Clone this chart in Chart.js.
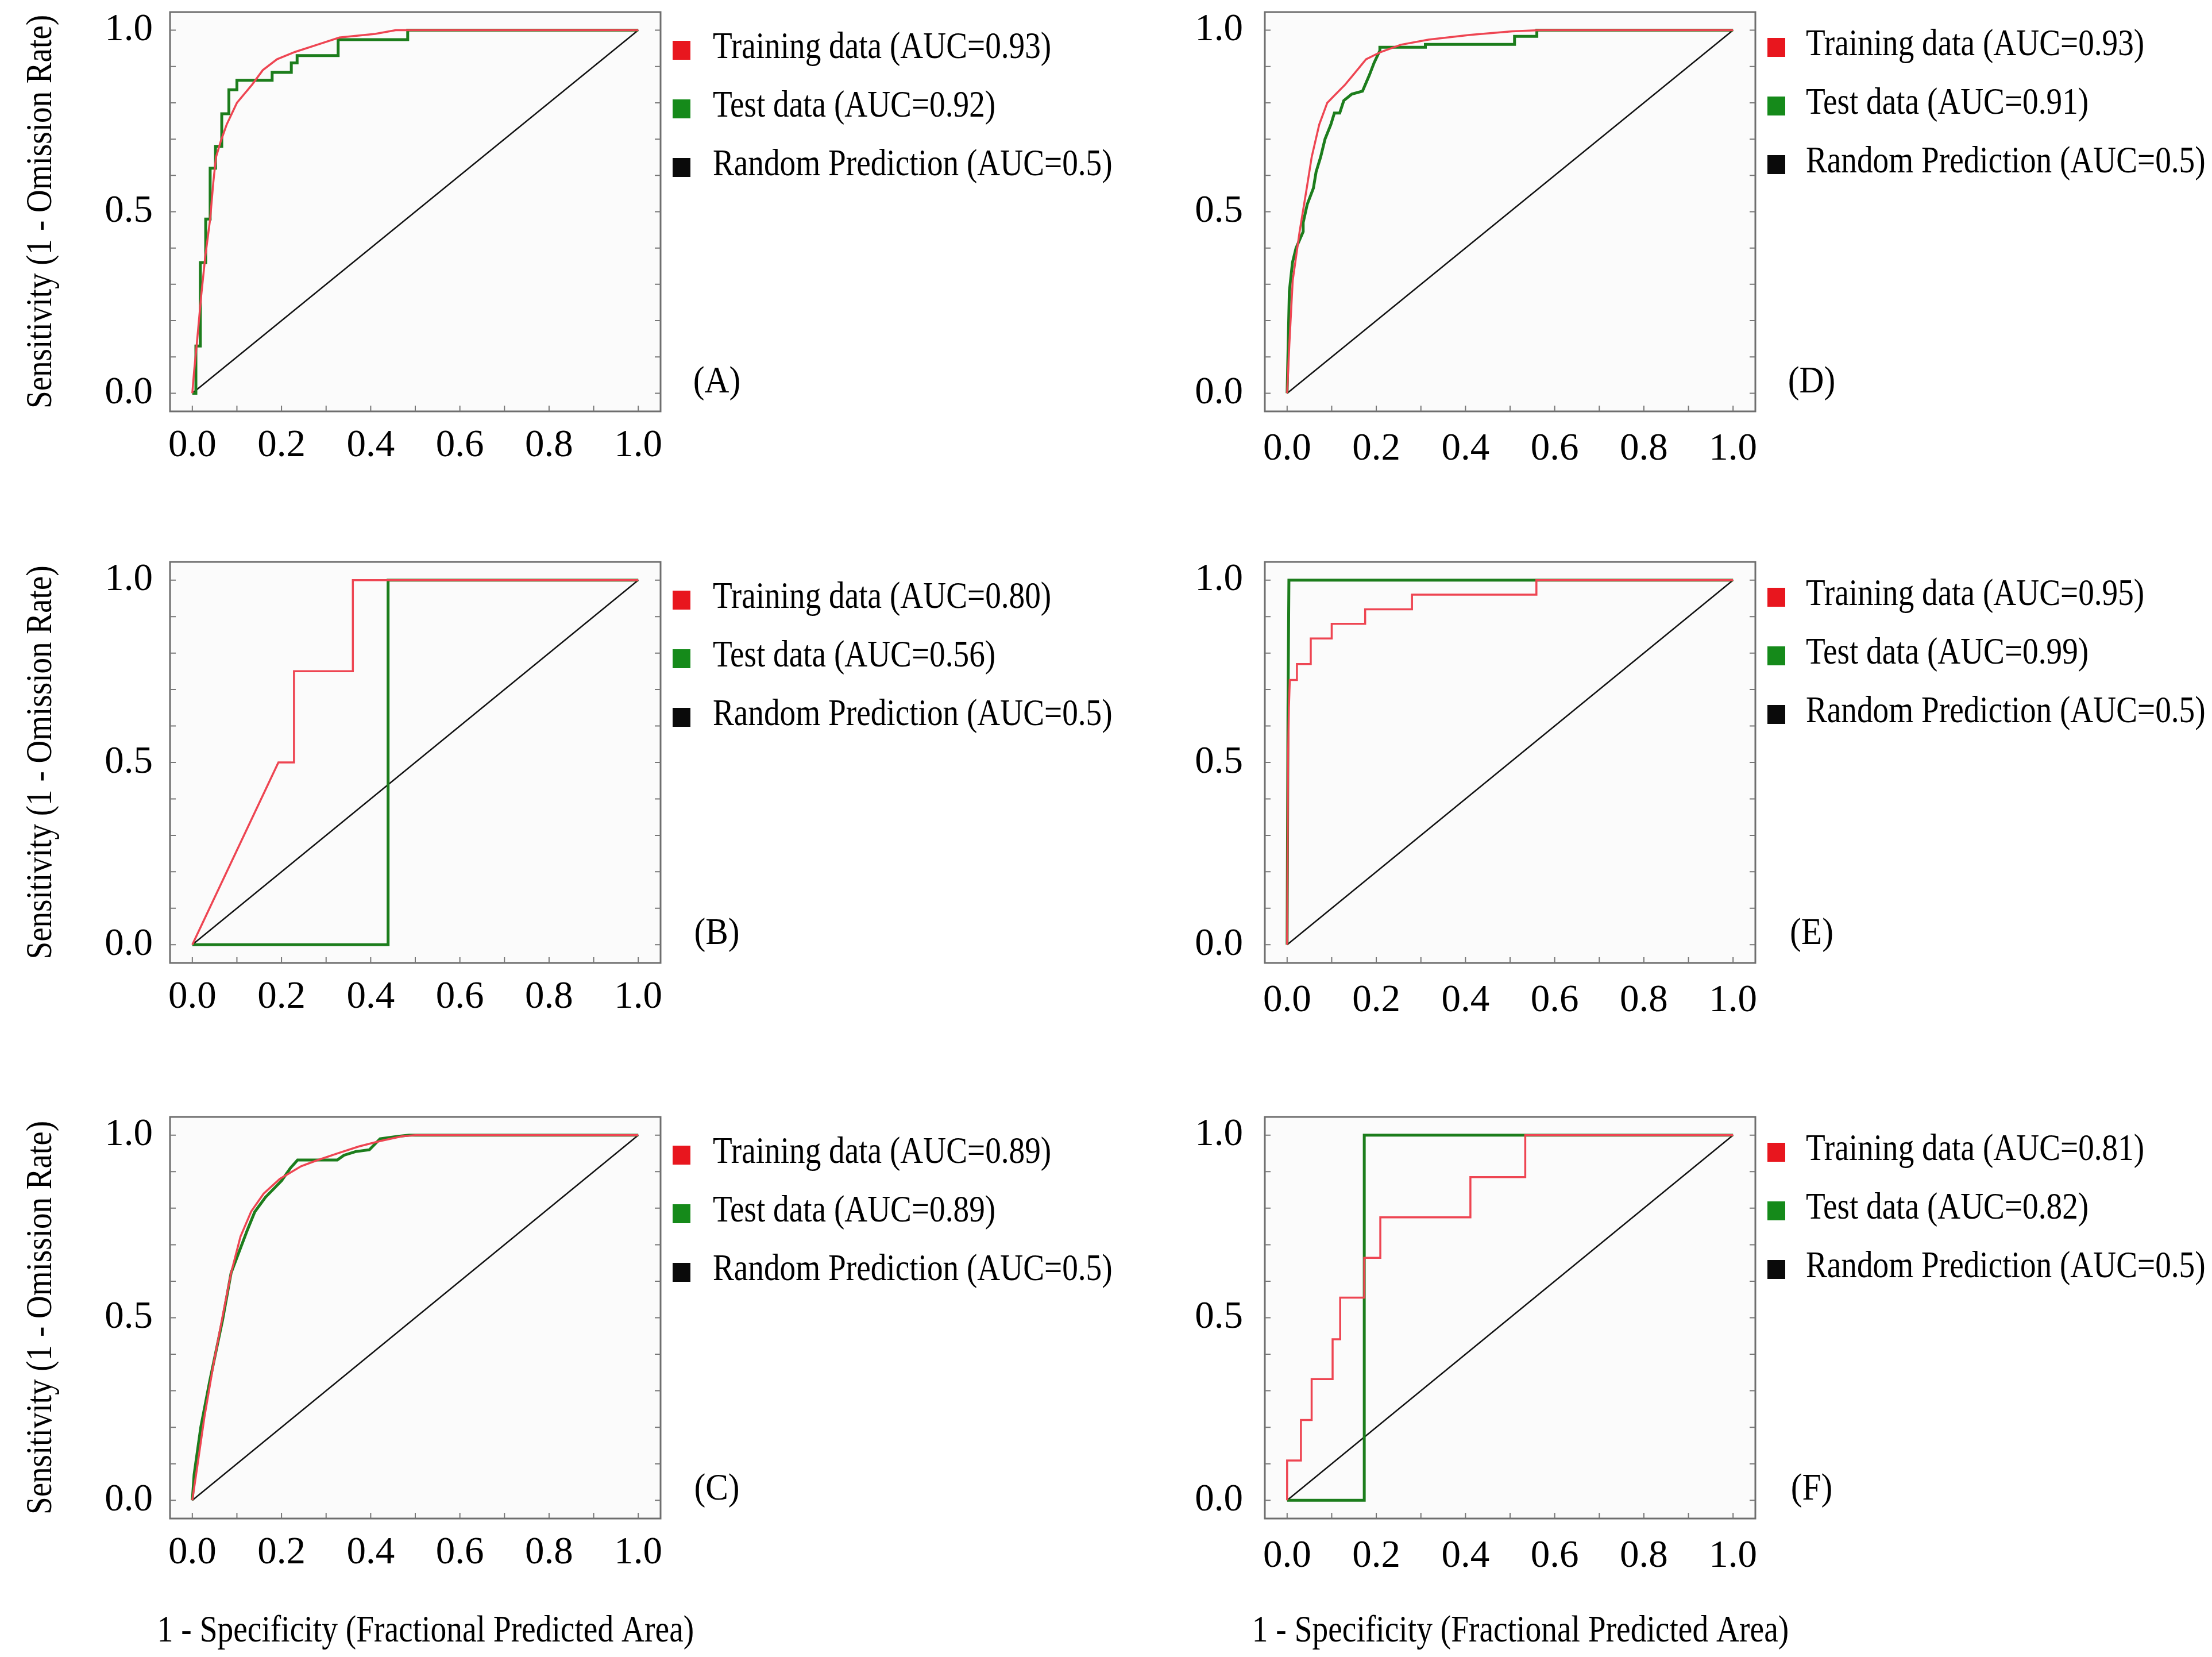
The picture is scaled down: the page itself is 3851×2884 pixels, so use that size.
<!DOCTYPE html>
<html>
<head>
<meta charset="utf-8">
<script src="https://cdn.jsdelivr.net/npm/chart.js@4.4.1/dist/chart.umd.min.js"></script>
<style>
html, body { margin: 0; padding: 0; background: #fff; }
#page { position: relative; width: 3851px; height: 2884px; overflow: hidden; background: #fff; }
#page canvas { position: absolute; }
</style>
</head>
<body>
<div id="page"></div>
<script>
// ROC curves, six panels (A-F)

// tick labels
var xTickValues = [0, 0.2, 0.4, 0.6, 0.8, 1.0];
var yTickValues = [0, 0.5, 1.0];
var minorTicks = [0, 0.1, 0.2, 0.3, 0.4, 0.5, 0.6, 0.7, 0.8, 0.9, 1.0];

// panel names and AUC values for the legends
var panelNames = ["A", "B", "C", "D", "E", "F"];
var trainingAuc = ["0.93", "0.80", "0.89", "0.93", "0.95", "0.81"];
var testAuc = ["0.92", "0.56", "0.89", "0.91", "0.99", "0.82"];
var randomAuc = "0.5";

// curves as [1 - specificity, sensitivity]
var trainA = [[0,0],[0.004,0.06],[0.01,0.135],[0.02,0.27],[0.029,0.376],[0.04,0.48],[0.047,0.58],[0.053,0.65],[0.064,0.695],[0.077,0.74],[0.1,0.8],[0.134,0.85],[0.158,0.89],[0.19,0.92],[0.23,0.94],[0.28,0.96],[0.33,0.98],[0.41,0.99],[0.456,1.0],[1,1]];
var testA = [[0,0],[0.008,0],[0.008,0.13],[0.018,0.13],[0.018,0.36],[0.03,0.36],[0.03,0.48],[0.04,0.48],[0.04,0.62],[0.052,0.62],[0.052,0.68],[0.066,0.68],[0.066,0.77],[0.082,0.77],[0.082,0.836],[0.1,0.836],[0.1,0.862],[0.179,0.862],[0.179,0.884],[0.222,0.884],[0.222,0.91],[0.235,0.91],[0.235,0.93],[0.327,0.93],[0.327,0.974],[0.483,0.974],[0.483,1.0],[1,1]];

var trainB = [[0,0],[0.193,0.5],[0.228,0.5],[0.228,0.75],[0.36,0.75],[0.36,1],[1,1]];
var testB = [[0,0],[0.439,0],[0.439,1],[1,1]];

var trainC = [[0,0],[0.012,0.1],[0.027,0.227],[0.048,0.376],[0.071,0.524],[0.087,0.623],[0.108,0.722],[0.132,0.791],[0.16,0.84],[0.196,0.88],[0.244,0.915],[0.277,0.93],[0.325,0.95],[0.373,0.969],[0.421,0.984],[0.47,0.997],[0.5,1],[1,1]];
var testC = [[0,0],[0.004,0.07],[0.019,0.2],[0.039,0.326],[0.068,0.495],[0.087,0.623],[0.124,0.742],[0.14,0.79],[0.164,0.83],[0.2,0.875],[0.22,0.91],[0.236,0.932],[0.325,0.932],[0.34,0.945],[0.366,0.955],[0.397,0.96],[0.421,0.99],[0.462,0.997],[0.486,1],[1,1]];

var trainD = [[0,0],[0.005,0.135],[0.0125,0.31],[0.028,0.445],[0.044,0.565],[0.055,0.65],[0.072,0.74],[0.09,0.8],[0.106,0.82],[0.13,0.85],[0.153,0.884],[0.177,0.92],[0.21,0.94],[0.255,0.96],[0.317,0.974],[0.41,0.987],[0.505,0.997],[0.567,1],[1,1]];
var testD = [[0,0],[0.005,0.28],[0.012,0.36],[0.02,0.4],[0.036,0.445],[0.036,0.47],[0.045,0.52],[0.059,0.565],[0.065,0.61],[0.075,0.65],[0.085,0.7],[0.098,0.74],[0.106,0.772],[0.118,0.772],[0.127,0.806],[0.145,0.824],[0.169,0.832],[0.184,0.875],[0.195,0.91],[0.208,0.944],[0.208,0.953],[0.31,0.953],[0.31,0.961],[0.51,0.961],[0.51,0.983],[0.56,0.983],[0.56,1],[1,1]];

var trainE = [[0,0],[0.002,0.5],[0.004,0.65],[0.006,0.726],[0.022,0.726],[0.022,0.77],[0.053,0.77],[0.053,0.84],[0.1,0.84],[0.1,0.88],[0.175,0.88],[0.175,0.92],[0.28,0.92],[0.28,0.96],[0.559,0.96],[0.559,1],[1,1]];
var testE = [[0,0],[0.002,0.65],[0.004,1],[1,1]];

var trainF = [[0,0],[0,0.109],[0.031,0.109],[0.031,0.22],[0.055,0.22],[0.055,0.332],[0.102,0.332],[0.102,0.441],[0.119,0.441],[0.119,0.555],[0.173,0.555],[0.173,0.664],[0.209,0.664],[0.209,0.775],[0.411,0.775],[0.411,0.885],[0.534,0.885],[0.534,1],[1,1]];
var testF = [[0,0],[0.173,0],[0.173,1],[1,1]];

var randomLine = [[0,0],[1,1]];

var trainCurves = [trainA, trainB, trainC, trainD, trainE, trainF];
var testCurves = [testA, testB, testC, testD, testE, testF];

// text
var yTitle = "Sensitivity (1 - Omission Rate)";
var xTitle = "1 - Specificity (Fractional Predicted Area)";

// colours
var lineRed = "#ee4552";
var lineGreen = "#1c7d1c";
var lineBlack = "#111111";
var legendColors = ["#e8161e", "#158a1a", "#0a0a0a"];

// page layout (pixels), columns and rows of the grid
var AXIS_W = 120;
var AXIS_H = 120;
var colBox = [
  { left: 0, width: 1950, frameL: 296, frameR: 1150, yPad: 30, xPad: 20, legendX: 91, legendY: 80 },
  { left: 1950, width: 1901, frameL: 2202, frameR: 3056, yPad: 38, xPad: 26, legendX: 88, legendY: 75 }
];
var rowBox = [
  { top: 0, height: 940, frameT: 21, frameB: 716 },
  { top: 940, height: 960, frameT: 978, frameB: 1676 },
  { top: 1900, height: 984, frameT: 1944, frameB: 2643 }
];
var SERIF = '"Liberation Serif", "Times New Roman", serif';

function toPoints(list) {
  return list.map(function (p) { return { x: p[0], y: p[1] }; });
}

// text a bit narrower than the font, like the original figure
function condensedText(ctx, text, x, y, squeeze, angle, align) {
  ctx.save();
  ctx.translate(x, y);
  if (angle) ctx.rotate(angle);
  ctx.scale(squeeze, 1);
  ctx.textAlign = align || "left";
  ctx.fillText(text, 0, 0);
  ctx.restore();
}

var rocDecor = {
  id: "rocDecor",
  beforeDatasetsDraw: function (chart) {
    var a = chart.chartArea, ctx = chart.ctx;
    ctx.save();
    ctx.fillStyle = "#fbfbfb";
    ctx.fillRect(a.left, a.top, a.right - a.left, a.bottom - a.top);
    ctx.restore();
  },
  afterDatasetsDraw: function (chart, args, opts) {
    var a = chart.chartArea, ctx = chart.ctx;
    var xs = chart.scales.x, ys = chart.scales.y;
    ctx.save();

    // frame
    ctx.strokeStyle = "#6e6e6e";
    ctx.lineWidth = 3;
    ctx.strokeRect(a.left, a.top, a.right - a.left, a.bottom - a.top);

    // small inward ticks
    ctx.strokeStyle = "#777";
    ctx.lineWidth = 2;
    ctx.beginPath();
    minorTicks.forEach(function (v) {
      var px = xs.getPixelForValue(v);
      ctx.moveTo(px, a.bottom);
      ctx.lineTo(px, a.bottom - 10);
      var py = ys.getPixelForValue(v);
      ctx.moveTo(a.left, py);
      ctx.lineTo(a.left + 10, py);
      ctx.moveTo(a.right, py);
      ctx.lineTo(a.right - 10, py);
    });
    ctx.stroke();

    // legend
    ctx.textBaseline = "alphabetic";
    ctx.font = "65px " + SERIF;
    chart.data.datasets.forEach(function (ds, k) {
      var base = a.top + opts.legendY + 102 * k;
      ctx.fillStyle = legendColors[k];
      ctx.fillRect(a.right + 21, base - 30, 31, 33);
      ctx.fillStyle = "#000";
      condensedText(ctx, ds.label, a.right + opts.legendX, base, 0.85, 0, "left");
    });

    // panel letter
    ctx.textBaseline = "middle";
    ctx.font = "66px " + SERIF;
    condensedText(ctx, "(" + opts.letter + ")", a.right + 98, a.bottom - 50, 0.9, 0, "center");

    // axis titles
    if (opts.showY) {
      ctx.font = "64px " + SERIF;
      condensedText(ctx, yTitle, 72, (a.top + a.bottom) / 2, 0.86, -Math.PI / 2, "center");
    }
    if (opts.showX) {
      ctx.font = "66px " + SERIF;
      condensedText(ctx, xTitle, (a.left + a.right) / 2 + 18, a.bottom + 197, 0.84, 0, "center");
    }
    ctx.restore();
  }
};

function makePanel(i) {
  var colIdx = i < 3 ? 0 : 1;
  var rowIdx = i % 3;
  var col = colBox[colIdx], row = rowBox[rowIdx];

  var canvas = document.createElement("canvas");
  canvas.width = col.width;
  canvas.height = row.height;
  canvas.style.left = col.left + "px";
  canvas.style.top = row.top + "px";
  canvas.style.width = col.width + "px";
  canvas.style.height = row.height + "px";
  document.getElementById("page").appendChild(canvas);

  var pad = {
    left: col.frameL - col.left - AXIS_W,
    right: col.left + col.width - col.frameR,
    top: row.frameT - row.top,
    bottom: row.top + row.height - row.frameB - AXIS_H
  };
  var tickFont = { family: SERIF, size: 67 };

  return new Chart(canvas.getContext("2d"), {
    type: "scatter",
    data: {
      datasets: [{
        label: "Training data (AUC=" + trainingAuc[i] + ")",
        data: toPoints(trainCurves[i]),
        showLine: true,
        borderColor: lineRed,
        borderWidth: 3.5,
        pointRadius: 0,
        tension: 0
      }, {
        label: "Test data (AUC=" + testAuc[i] + ")",
        data: toPoints(testCurves[i]),
        showLine: true,
        borderColor: lineGreen,
        borderWidth: 5,
        pointRadius: 0,
        tension: 0
      }, {
        label: "Random Prediction (AUC=" + randomAuc + ")",
        data: toPoints(randomLine),
        showLine: true,
        borderColor: lineBlack,
        borderWidth: 2.5,
        pointRadius: 0,
        tension: 0
      }]
    },
    options: {
      responsive: false,
      animation: false,
      devicePixelRatio: 1,
      layout: { padding: pad },
      plugins: {
        legend: { display: false },
        tooltip: { enabled: false },
        rocDecor: {
          letter: panelNames[i],
          showY: colIdx === 0,
          showX: rowIdx === 2,
          legendX: col.legendX,
          legendY: col.legendY
        }
      },
      scales: {
        x: {
          type: "linear",
          min: -0.05,
          max: 1.05,
          grid: { display: false, drawTicks: false },
          border: { display: false },
          afterBuildTicks: function (s) { s.ticks = xTickValues.map(function (v) { return { value: v }; }); },
          afterFit: function (s) { s.height = AXIS_H; s.paddingLeft = 0; s.paddingRight = 0; },
          ticks: {
            padding: col.xPad,
            color: "#000",
            font: tickFont,
            autoSkip: false,
            maxRotation: 0,
            callback: function (v) { return Number(v).toFixed(1); }
          }
        },
        y: {
          type: "linear",
          min: -0.05,
          max: 1.05,
          grid: { display: false, drawTicks: false },
          border: { display: false },
          afterBuildTicks: function (s) { s.ticks = yTickValues.map(function (v) { return { value: v }; }); },
          afterFit: function (s) { s.width = AXIS_W; s.paddingTop = 0; s.paddingBottom = 0; },
          ticks: {
            padding: col.yPad,
            color: "#000",
            font: tickFont,
            autoSkip: false,
            callback: function (v) { return Number(v).toFixed(1); }
          }
        }
      }
    },
    plugins: [rocDecor]
  });
}

for (var i = 0; i < panelNames.length; i++) {
  makePanel(i);
}
</script>
</body>
</html>
